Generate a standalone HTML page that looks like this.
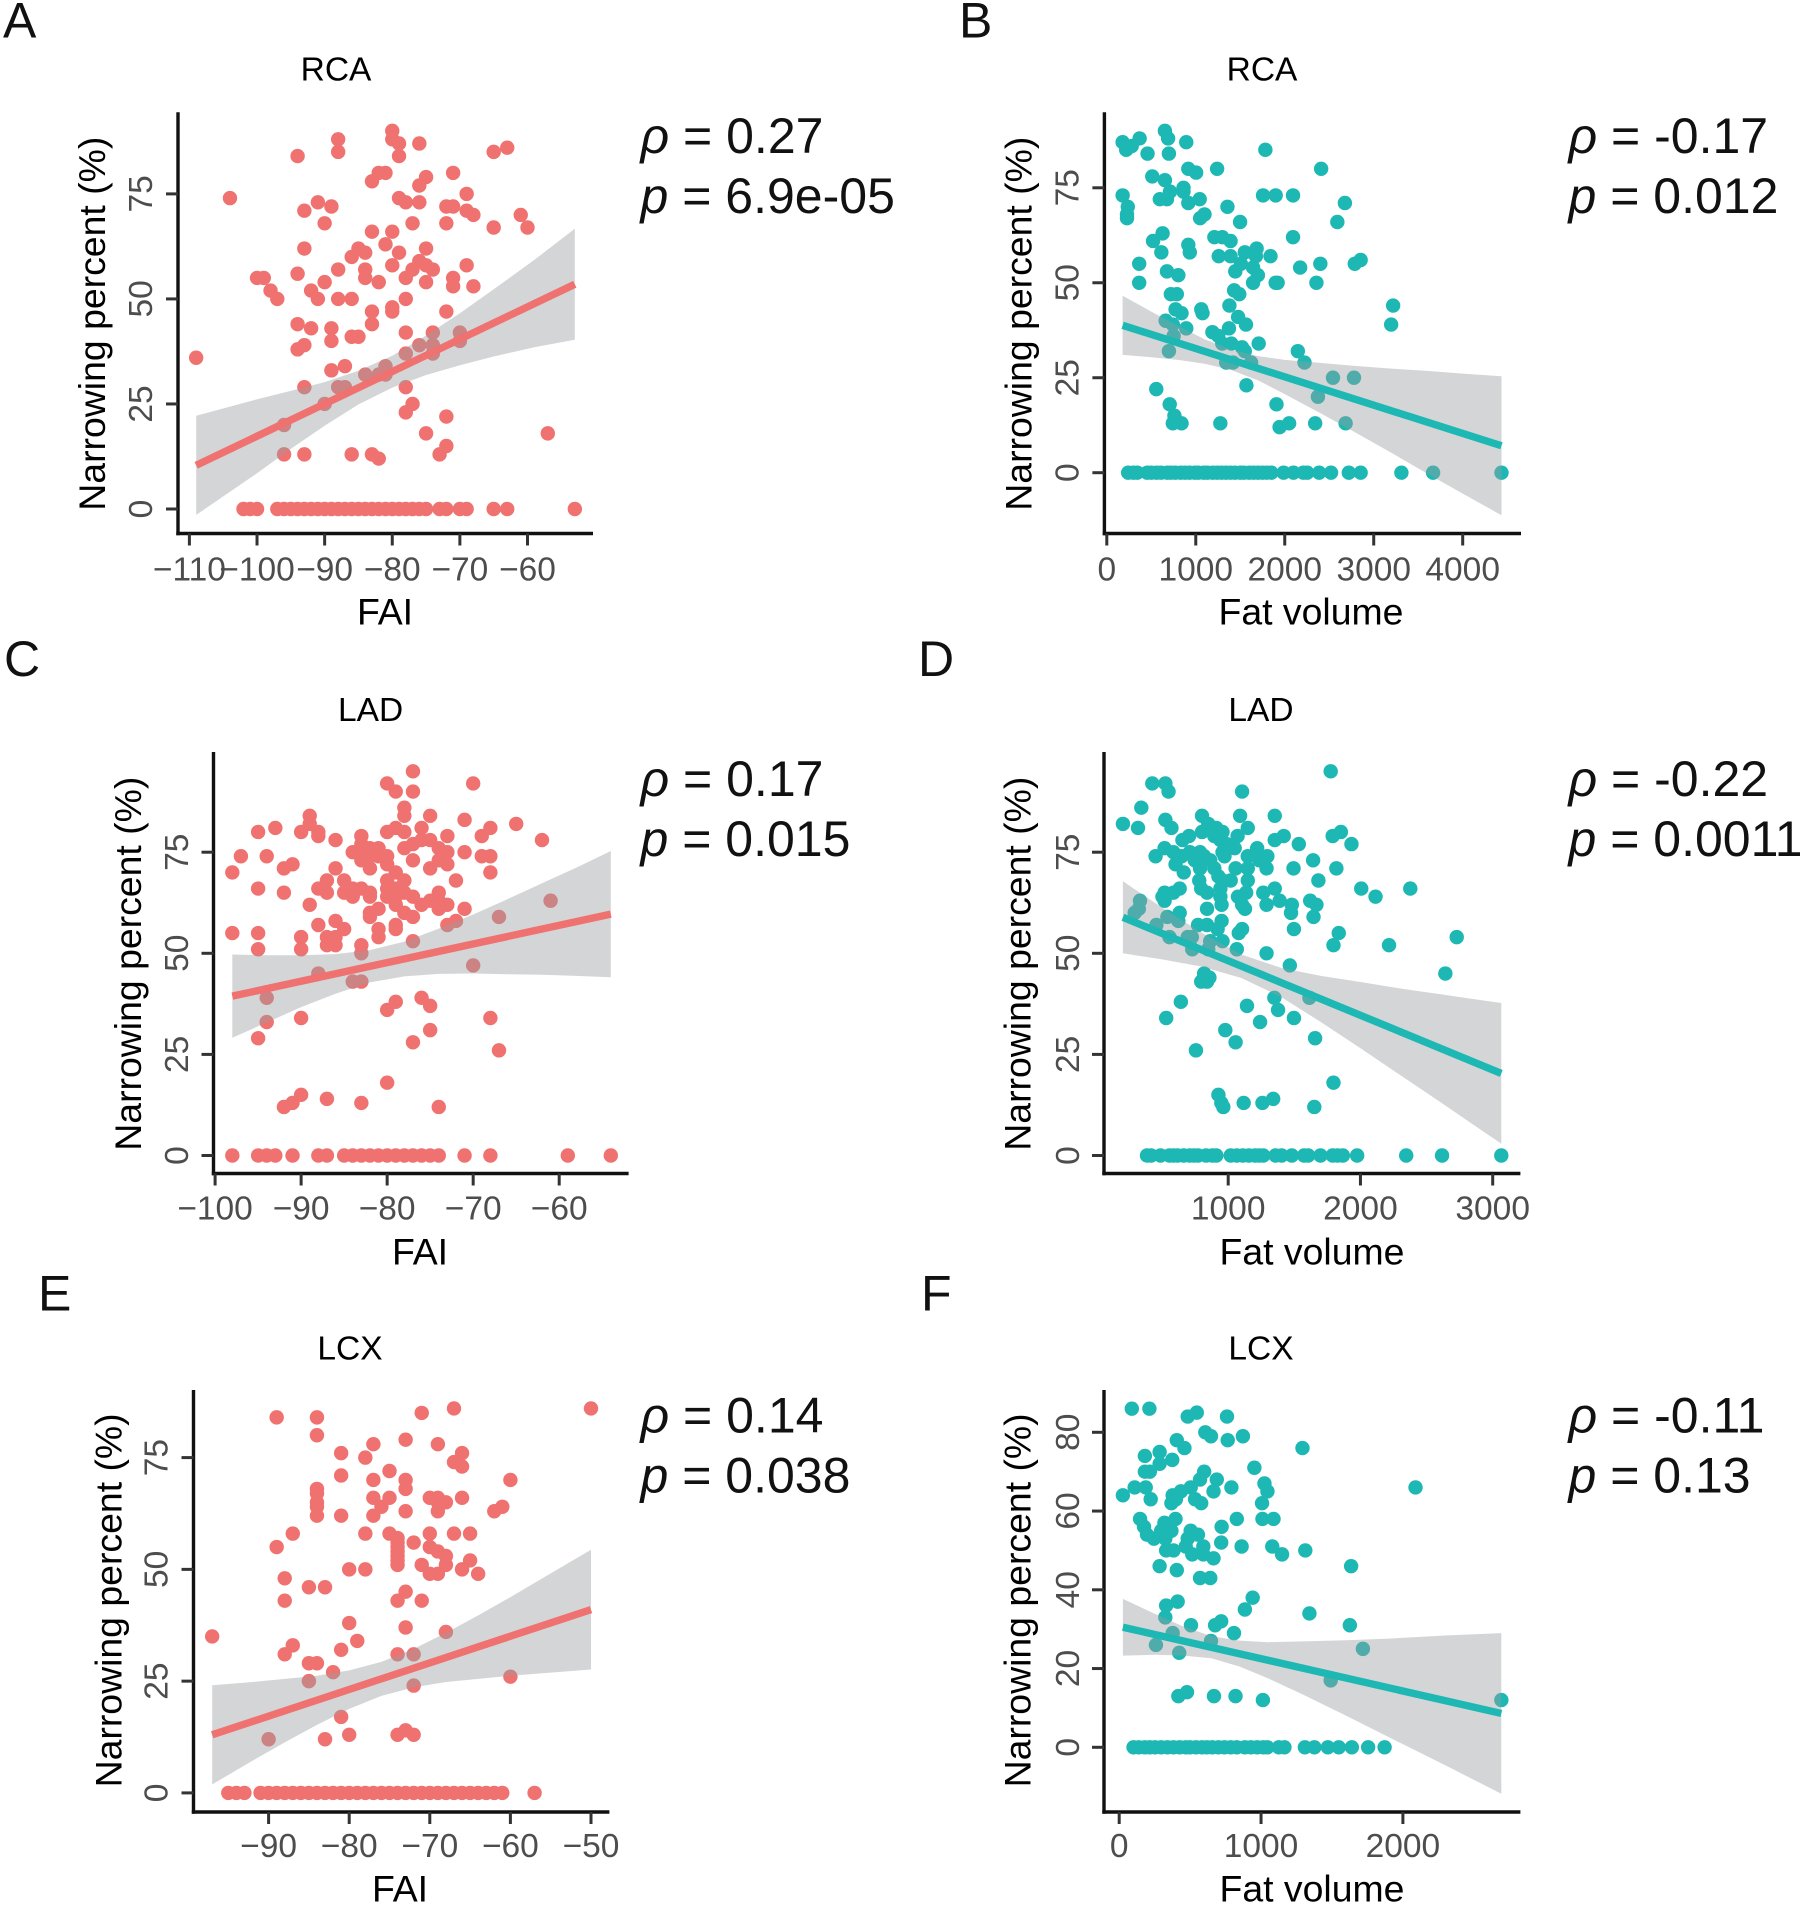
<!DOCTYPE html>
<html lang="en">
<head>
<meta charset="utf-8">
<title>Narrowing percent vs FAI and fat volume</title>
<style>
html,body{margin:0;padding:0;background:#fff;}
svg{display:block;font-family:"Liberation Sans",Arial,sans-serif;}
.letter{font-size:50px;fill:#111;}
.title{font-size:33.5px;fill:#000;text-anchor:middle;}
.axt{font-size:37.4px;fill:#000;text-anchor:middle;}
.stat{font-size:50px;fill:#111;}
.stat tspan{font-style:italic;}
</style>
</head>
<body>
<svg id="figure" xmlns="http://www.w3.org/2000/svg" width="1800" height="1908" viewBox="0 0 1800 1908">
<rect width="1800" height="1908" fill="#fff"/>

<g id="panel-a">
<text class="letter" x="3" y="37.5">A</text>
<text class="title" x="336" y="80.4">RCA</text>
<text class="axt" transform="translate(105 323.7) rotate(-90)">Narrowing percent (%)</text>
<text class="axt" x="385" y="624.5">FAI</text>
<text class="stat" x="640.5" y="153"><tspan>ρ</tspan> = 0.27</text>
<text class="stat" x="640.5" y="213"><tspan>p</tspan> = 6.9e-05</text>
</g>

<g id="panel-b">
<text class="letter" x="959" y="37.5">B</text>
<text class="title" x="1262" y="80.4">RCA</text>
<text class="axt" transform="translate(1031.7 323.7) rotate(-90)">Narrowing percent (%)</text>
<text class="axt" x="1311" y="624.5">Fat volume</text>
<text class="stat" x="1568.5" y="153"><tspan>ρ</tspan> = -0.17</text>
<text class="stat" x="1568.5" y="213"><tspan>p</tspan> = 0.012</text>
</g>

<g id="panel-c">
<text class="letter" x="4" y="676">C</text>
<text class="title" x="370.6" y="720.8">LAD</text>
<text class="axt" transform="translate(140.8 963.7) rotate(-90)">Narrowing percent (%)</text>
<text class="axt" x="420" y="1264.5">FAI</text>
<text class="stat" x="640.5" y="796"><tspan>ρ</tspan> = 0.17</text>
<text class="stat" x="640.5" y="856"><tspan>p</tspan> = 0.015</text>
</g>

<g id="panel-d">
<text class="letter" x="918" y="676">D</text>
<text class="title" x="1261" y="720.8">LAD</text>
<text class="axt" transform="translate(1030.6 963.7) rotate(-90)">Narrowing percent (%)</text>
<text class="axt" x="1312" y="1264.5">Fat volume</text>
<text class="stat" x="1568.5" y="796"><tspan>ρ</tspan> = -0.22</text>
<text class="stat" x="1568.5" y="856"><tspan>p</tspan> = 0.0011</text>
</g>

<g id="panel-e">
<text class="letter" x="38" y="1310.7">E</text>
<text class="title" x="350" y="1359.5">LCX</text>
<text class="axt" transform="translate(121.6 1600.4) rotate(-90)">Narrowing percent (%)</text>
<text class="axt" x="400" y="1901.5">FAI</text>
<text class="stat" x="640.5" y="1432.5"><tspan>ρ</tspan> = 0.14</text>
<text class="stat" x="640.5" y="1492.5"><tspan>p</tspan> = 0.038</text>
</g>

<g id="panel-f">
<text class="letter" x="921" y="1310.7">F</text>
<text class="title" x="1261" y="1359.5">LCX</text>
<text class="axt" transform="translate(1030.6 1600.4) rotate(-90)">Narrowing percent (%)</text>
<text class="axt" x="1312" y="1901.5">Fat volume</text>
<text class="stat" x="1568.5" y="1432.5"><tspan>ρ</tspan> = -0.11</text>
<text class="stat" x="1568.5" y="1492.5"><tspan>p</tspan> = 0.13</text>
</g>
</svg>

<script>
/* Panel A: RCA vs FAI */
const aXTicks=[-110,-100,-90,-80,-70,-60];
const aYTicks=[0,25,50,75];
const aXLabels=["−110","−100","−90","−80","−70","−60"];
const aYLabels=["0","25","50","75"];
const aZeroX=[-102,-101,-100,-97,-96,-95,-94,-93,-92,-91,-90,-89,-88,-87,-86,-85,-84,-83,-82,-81,-80,-79,-78,-77,-76,-75,-73,-72,-70,-69,-65,-63,-53];
const aPoints=[[-109,36],[-104,74],[-100,55],[-99,55],[-98,52],[-97,50],[-96,20],[-96,13],[-94,84],[-94,56],[-94,44],[-94,38],[-93,39],[-93,71],[-93,62],[-93,29],[-93,13],[-92,52],[-92,43],[-91,73],[-91,50],[-90,68],[-90,54],[-90,25],[-89,72],[-89,43],[-89,40],[-89,33],[-88,88],[-88,85],[-88,57],[-88,50],[-88,29],[-87,34],[-87,29],[-86,60],[-86,50],[-86,41],[-86,13],[-85,62],[-85,41],[-84,61],[-84,57],[-84,55],[-84,32],[-83,78],[-83,66],[-83,47],[-83,44],[-83,13],[-82,80],[-82,54],[-82,32],[-82,12],[-81,80],[-81,63],[-81,34],[-81,32],[-80,90],[-80,88],[-80,66],[-80,58],[-80,48],[-80,47],[-79,87],[-79,84],[-79,74],[-79,61],[-78,73],[-78,55],[-78,50],[-78,42],[-78,37],[-78,29],[-78,23],[-77,68],[-77,57],[-77,25],[-76,87],[-76,77],[-76,73],[-76,59],[-76,39],[-75,79],[-75,62],[-75,58],[-75,54],[-75,18],[-74,57],[-74,42],[-74,39],[-74,37],[-73,13],[-72,72],[-72,68],[-72,47],[-72,22],[-72,15],[-71,80],[-71,72],[-71,55],[-71,53],[-70,42],[-70,40],[-69,75],[-69,71],[-69,58],[-68,70],[-68,53],[-65,85],[-65,67],[-63,86],[-61,70],[-60,67],[-57,18]];
const aFitX=[-109,-53];
const aFitY=[10.4,53.5];
const aBandX=[-109,-100,-95,-90,-85,-80,-75,-70,-65,-59,-53];
const aBandHigh=[22.2,26.1,28.1,30.2,32.9,36.5,41.3,46.6,52.3,59.3,66.7];
const aBandLow=[-1.4,8.5,14.3,19.8,24.9,28.9,31.9,34.2,36.3,38.5,40.3];

/* Panel B: RCA vs fat volume */
const bXTicks=[0,1000,2000,3000,4000];
const bYTicks=[0,25,50,75];
const bXLabels=["0","1000","2000","3000","4000"];
const bYLabels=["0","25","50","75"];
const bZeroX=[240,298,342,453,500,560,610,680,720,770,830,880,930,990,1030,1090,1130,1190,1240,1290,1340,1390,1440,1500,1540,1600,1650,1700,1750,1800,1850,1987,2098,2209,2253,2387,2520,2720,2853,3311,3667,4436];
const bPoints=[[178,87],[218,85],[280,86],[369,88],[458,84],[653,90],[689,88],[698,84],[893,87],[511,78],[653,77],[711,74],[596,72],[676,72],[178,73],[236,70],[227,68],[227,67],[862,75],[862,74],[916,80],[1004,79],[1240,80],[916,71],[1044,72],[1356,70],[1098,68],[1049,67],[1498,66],[1782,85],[2409,80],[1756,73],[1898,73],[2093,73],[2676,71],[2591,66],[2093,62],[520,61],[627,63],[613,58],[916,60],[933,58],[1209,62],[1298,62],[1391,61],[1258,57],[1391,57],[1551,58],[1684,59],[1676,57],[1840,57],[364,55],[364,50],[676,53],[804,52],[1444,53],[1507,55],[1644,54],[1698,52],[1644,50],[1898,50],[1920,50],[2173,54],[2400,55],[2356,50],[2787,55],[2853,56],[720,47],[787,47],[1431,48],[1489,47],[1378,44],[773,43],[840,42],[1062,43],[1076,42],[1476,41],[1564,39],[3218,44],[3196,39],[662,40],[742,39],[893,38],[751,36],[698,32],[1187,37],[1253,36],[1373,38],[1298,34],[1400,34],[1520,33],[1551,32],[1707,34],[1342,29],[1418,29],[1622,29],[2147,32],[2222,29],[2542,25],[2778,25],[556,22],[1569,23],[2373,20],[707,18],[1907,18],[760,15],[742,13],[840,13],[1276,13],[1942,12],[2049,13],[2342,13],[2684,13]];
const bFitX=[178,4436];
const bFitY=[38.8,7.1];
const bBandX=[178,500,800,1100,1400,1700,2000,2400,2800,3200,3600,4000,4436];
const bBandHigh=[46.6,42.4,38.7,35.1,32.4,30.7,29.7,28.9,28.1,27.4,26.8,26.1,25.4];
const bBandLow=[31.0,30.4,29.7,28.7,27.0,24.3,20.7,15.7,10.5,5.2,-0.2,-5.5,-11.2];

/* Panel C: LAD vs FAI */
const cXTicks=[-100,-90,-80,-70,-60];
const cYTicks=[0,25,50,75];
const cXLabels=["−100","−90","−80","−70","−60"];
const cYLabels=["0","25","50","75"];
const cZeroX=[-98,-95,-94,-93,-91,-88,-87,-85,-84,-83,-82,-81,-80,-79,-78,-77,-76,-75,-74,-71,-68,-59,-54];
const cPoints=[[-98,70],[-98,55],[-97,74],[-95,80],[-95,66],[-95,55],[-95,51],[-95,29],[-94,74],[-94,39],[-94,33],[-93,81],[-92,71],[-92,65],[-92,12],[-91,72],[-91,13],[-90,80],[-90,54],[-90,51],[-90,34],[-90,15],[-89,84],[-89,82],[-89,62],[-88,80],[-88,79],[-88,66],[-88,57],[-88,45],[-87,68],[-87,65],[-87,54],[-87,52],[-87,14],[-86,78],[-86,71],[-86,58],[-86,54],[-86,52],[-85,68],[-85,65],[-85,56],[-84,75],[-84,66],[-84,64],[-84,43],[-83,79],[-83,77],[-83,75],[-83,73],[-83,66],[-83,52],[-83,50],[-83,43],[-83,13],[-82,76],[-82,74],[-82,71],[-82,65],[-82,64],[-82,60],[-82,59],[-81,76],[-81,74],[-81,61],[-81,56],[-81,54],[-80,92],[-80,80],[-80,74],[-80,72],[-80,68],[-80,66],[-80,64],[-80,36],[-80,18],[-79,90],[-79,81],[-79,70],[-79,66],[-79,64],[-79,62],[-79,57],[-79,56],[-79,38],[-78,86],[-78,84],[-78,80],[-78,76],[-78,68],[-78,65],[-78,60],[-77,95],[-77,90],[-77,77],[-77,73],[-77,64],[-77,59],[-77,53],[-77,28],[-76,81],[-76,78],[-76,62],[-76,39],[-75,84],[-75,78],[-75,71],[-75,63],[-75,37],[-75,31],[-74,76],[-74,73],[-74,65],[-74,63],[-74,61],[-74,12],[-73,79],[-73,75],[-73,72],[-73,62],[-73,57],[-72,68],[-72,58],[-71,83],[-71,75],[-71,61],[-70,92],[-70,47],[-69,79],[-69,74],[-68,81],[-68,74],[-68,70],[-68,34],[-67,59],[-67,26],[-65,82],[-62,78],[-61,63]];
const cFitX=[-98,-54];
const cFitY=[39.4,59.7];
const cBandX=[-98,-94,-90,-86,-82,-78,-74,-70,-66,-62,-58,-54];
const cBandHigh=[49.7,49.5,49.5,49.8,50.8,52.9,56.1,59.6,63.4,67.3,71.2,75.3];
const cBandLow=[29.1,32.9,36.7,40.0,42.8,44.3,44.9,45.0,44.8,44.7,44.4,44.1];

/* Panel D: LAD vs fat volume */
const dXTicks=[1000,2000,3000];
const dYTicks=[0,25,50,75];
const dXLabels=["1000","2000","3000"];
const dYLabels=["0","25","50","75"];
const dZeroX=[386,417,488,556,586,617,664,710,741,772,833,880,910,1019,1065,1111,1157,1204,1235,1265,1358,1404,1481,1574,1605,1698,1790,1827,1867,1975,2346,2617,3065];
const dPoints=[[204,82],[318,81],[343,86],[426,92],[525,92],[549,90],[525,83],[571,81],[654,78],[704,79],[519,76],[451,74],[586,75],[602,72],[664,70],[648,74],[710,75],[787,75],[747,73],[818,74],[787,71],[864,73],[895,71],[926,69],[802,84],[802,80],[849,82],[910,81],[957,80],[895,79],[941,78],[988,77],[1049,76],[957,75],[972,74],[1071,79],[1090,84],[1105,90],[1148,81],[1056,71],[1019,68],[957,68],[781,68],[796,66],[840,65],[633,66],[586,65],[519,65],[503,64],[519,63],[1148,74],[1219,76],[1235,73],[1296,74],[1290,71],[1148,71],[1148,68],[1136,65],[1074,64],[1105,62],[1127,61],[941,66],[941,64],[950,62],[1265,65],[1352,78],[1420,79],[1352,84],[1534,77],[1494,71],[1642,73],[1682,68],[1352,66],[1389,63],[1290,62],[1481,62],[1475,60],[1620,63],[1667,62],[1645,59],[1818,71],[1790,79],[1852,80],[1932,77],[1775,95],[2006,66],[2114,64],[2377,66],[840,61],[333,63],[324,61],[293,60],[540,59],[633,60],[623,58],[457,57],[772,57],[840,57],[950,58],[920,56],[1105,56],[1080,55],[1497,56],[1836,55],[1796,52],[2216,52],[2728,54],[556,54],[694,54],[725,54],[728,51],[957,53],[864,53],[849,51],[1065,51],[1290,50],[1466,47],[2642,45],[818,45],[858,44],[796,43],[840,43],[642,38],[531,34],[1142,37],[1349,39],[1377,36],[1614,39],[1497,34],[1241,33],[978,31],[1056,28],[756,26],[1657,29],[1796,18],[926,15],[948,13],[963,12],[1117,13],[1259,13],[1340,14],[1651,12]];
const dFitX=[204,3065];
const dFitY=[58.9,20.3];
const dBandX=[204,500,800,1100,1400,1700,2000,2300,2600,2850,3065];
const dBandHigh=[67.8,61.3,55.1,49.7,46.4,44.4,42.9,41.3,39.9,38.7,37.7];
const dBandLow=[50.0,48.5,46.7,43.9,39.2,33.0,26.5,19.9,13.3,7.7,2.9];

/* Panel E: LCX vs FAI */
const eXTicks=[-90,-80,-70,-60,-50];
const eYTicks=[0,25,50,75];
const eXLabels=["−90","−80","−70","−60","−50"];
const eYLabels=["0","25","50","75"];
const eZeroX=[-95,-94,-93,-91,-90,-89,-88,-87,-86,-85,-84,-83,-82,-81,-80,-79,-78,-77,-76,-75,-74,-73,-72,-71,-70,-69,-68,-67,-66,-65,-64,-63,-62,-61,-57];
const ePoints=[[-97,35],[-89,84],[-89,55],[-90,12],[-88,48],[-88,43],[-88,31],[-87,58],[-87,33],[-85,46],[-85,29],[-85,25],[-84,84],[-84,80],[-84,68],[-84,67],[-84,65],[-84,64],[-84,62],[-84,29],[-83,46],[-83,12],[-82,27],[-81,76],[-81,71],[-81,62],[-81,32],[-81,17],[-80,50],[-80,38],[-80,13],[-79,34],[-78,75],[-78,58],[-78,50],[-77,78],[-77,70],[-77,66],[-77,62],[-76,64],[-75,72],[-75,66],[-75,58],[-74,57],[-74,56],[-74,55],[-74,54],[-74,53],[-74,52],[-74,51],[-74,43],[-74,31],[-74,13],[-73,79],[-73,70],[-73,68],[-73,63],[-73,45],[-73,37],[-73,14],[-72,56],[-72,31],[-72,24],[-72,13],[-71,85],[-71,51],[-71,43],[-70,66],[-70,58],[-70,55],[-70,49],[-69,78],[-69,66],[-69,65],[-69,63],[-69,54],[-69,49],[-68,65],[-68,53],[-68,51],[-68,36],[-67,86],[-67,74],[-67,58],[-66,76],[-66,73],[-66,66],[-66,50],[-65,58],[-65,52],[-64,49],[-62,63],[-61,64],[-60,70],[-60,26],[-50,86]];
const eFitX=[-97,-50];
const eFitY=[13,41];
const eBandX=[-97,-92,-88,-84,-80,-76,-72,-68,-64,-60,-55,-50];
const eBandHigh=[24.1,24.8,25.5,26.2,27.4,29.3,32.2,35.8,39.7,43.8,49.1,54.4];
const eBandLow=[1.9,7.2,11.3,15.2,18.8,21.7,23.6,24.8,25.5,26.2,26.9,27.6];

/* Panel F: LCX vs fat volume */
const fXTicks=[0,1000,2000];
const fYTicks=[0,20,40,60,80];
const fXLabels=["0","1000","2000"];
const fYLabels=["0","20","40","60","80"];
const fZeroX=[101,138,181,216,253,296,340,383,426,469,498,541,584,619,656,699,742,786,829,886,929,973,1016,1045,1125,1165,1309,1376,1471,1548,1640,1755,1871];
const fPoints=[[89,86],[213,86],[483,84],[547,85],[760,84],[607,80],[647,79],[765,78],[872,79],[406,78],[460,76],[1292,76],[285,75],[181,74],[285,72],[374,73],[181,70],[216,70],[599,70],[953,71],[570,68],[688,68],[1024,67],[1045,65],[2089,66],[109,66],[187,66],[26,64],[222,63],[504,66],[435,65],[377,64],[400,63],[368,62],[791,66],[665,65],[535,63],[578,62],[1007,62],[147,58],[175,56],[196,54],[245,53],[1010,58],[1088,58],[829,58],[397,58],[319,57],[296,55],[368,55],[325,53],[722,56],[504,55],[555,54],[483,53],[719,52],[469,51],[593,51],[863,51],[1079,51],[331,50],[383,50],[515,49],[593,49],[1312,50],[1148,49],[665,48],[1635,46],[285,46],[406,45],[570,43],[642,43],[941,38],[412,37],[331,36],[886,35],[1341,34],[325,33],[719,32],[676,31],[506,31],[1626,31],[377,29],[809,29],[647,27],[259,26],[423,24],[1718,25],[1491,17],[417,13],[478,14],[668,13],[820,13],[1013,12],[2694,12]];
const fFitX=[26,2694];
const fFitY=[30.5,8.6];
const fBandX=[26,250,450,650,850,1050,1300,1600,1900,2300,2694];
const fBandHigh=[37.7,33.9,30.7,28.2,27.1,26.7,26.9,27.2,27.6,28.4,29.0];
const fBandLow=[23.3,23.5,23.3,22.6,20.5,17.5,13.3,8.0,2.6,-4.6,-11.8];

const NS='http://www.w3.org/2000/svg';
const RED='#EF7270';
const TEAL='#1DB8B4';

function make(tag,attrs,parent){
  const el=document.createElementNS(NS,tag);
  for(const k in attrs){el.setAttribute(k,attrs[k]);}
  parent.appendChild(el);
  return el;
}
/* Linear axis function calibrated from two pixel anchors */
function linear(d0,d1,p0,p1){
  return function(v){return p0+(v-d0)*(p1-p0)/(d1-d0);};
}

function drawPanel(id,tag,color,frame,sx,sy,xTicks,xLabels,yTicks,yLabels,zeroX,points,fitX,fitY,bandX,bandHigh,bandLow){
  const root=document.getElementById(id);

  /* scatter points */
  const dots=make('g',{},root);
  
  
  zeroX.forEach(function(x){
    const c=make('circle',{cx:sx(x),cy:sy(0),r:7.2,fill:color},dots);
    
    
  });
  points.forEach(function(p){
    const c=make('circle',{cx:sx(p[0]),cy:sy(p[1]),r:7.2,fill:color},dots);
    
    
  });

  /* confidence band */
  let d='';
  bandX.forEach(function(x,i){d+=(i?'L':'M')+sx(x).toFixed(1)+' '+sy(bandHigh[i]).toFixed(1);});
  for(let i=bandX.length-1;i>=0;i--){d+='L'+sx(bandX[i]).toFixed(1)+' '+sy(bandLow[i]).toFixed(1);}
  const band=make('path',{d:d+'Z',fill:'#999a9e','fill-opacity':0.42},root);
  
  

  /* regression line */
  const fit=make('line',{x1:sx(fitX[0]),y1:sy(fitY[0]),x2:sx(fitX[1]),y2:sy(fitY[1]),stroke:color,'stroke-width':7.4},root);
  
  

  /* axis lines */
  const yAxis=make('line',{x1:frame.left,y1:frame.top,x2:frame.left,y2:frame.bottom+1.7,stroke:'#111','stroke-width':3.4},root);
  
  
  const xAxis=make('line',{x1:frame.left-1.7,y1:frame.bottom,x2:frame.right,y2:frame.bottom,stroke:'#111','stroke-width':3.4},root);
  
  

  /* x ticks */
  xTicks.forEach(function(v,i){
    const t=make('line',{x1:sx(v),y1:frame.bottom,x2:sx(v),y2:frame.bottom+12,stroke:'#333','stroke-width':3},root);
    
    
    const l=make('text',{x:sx(v),y:frame.xLabelY,'font-size':33.5,fill:'#4d4d4d','text-anchor':'middle'},root);
    
    
    l.textContent=xLabels[i];
  });

  /* y ticks */
  yTicks.forEach(function(v,i){
    const t=make('line',{x1:frame.left-12,y1:sy(v),x2:frame.left,y2:sy(v),stroke:'#333','stroke-width':3},root);
    
    
    const l=make('text',{transform:'translate('+frame.yLabelX+' '+sy(v)+') rotate(-90)','font-size':33.5,fill:'#4d4d4d','text-anchor':'middle'},root);
    
    
    l.textContent=yLabels[i];
  });
}

drawPanel('panel-a','a',RED,{left:178,right:593,top:112.2,bottom:533.5,xLabelY:580.4,yLabelX:152},
  linear(-110,-60,189.4,527.5),linear(0,75,509,193.9),
  aXTicks,aXLabels,aYTicks,aYLabels,aZeroX,aPoints,aFitX,aFitY,aBandX,aBandHigh,aBandLow);
drawPanel('panel-b','b',TEAL,{left:1104.4,right:1521,top:112.2,bottom:533.5,xLabelY:580.4,yLabelX:1078.7},
  linear(0,4000,1106.8,1462.7),linear(0,75,472.7,187.8),
  bXTicks,bXLabels,bYTicks,bYLabels,bZeroX,bPoints,bFitX,bFitY,bBandX,bBandHigh,bBandLow);
drawPanel('panel-c','c',RED,{left:213.5,right:628.6,top:752,bottom:1173.5,xLabelY:1219.6,yLabelX:188},
  linear(-100,-60,215.1,559.2),linear(0,75,1155.5,852.2),
  cXTicks,cXLabels,cYTicks,cYLabels,cZeroX,cPoints,cFitX,cFitY,cBandX,cBandHigh,cBandLow);
drawPanel('panel-d','d',TEAL,{left:1104,right:1520.4,top:752,bottom:1173.5,xLabelY:1219.6,yLabelX:1078.8},
  linear(1000,3000,1228.2,1492.7),linear(0,75,1155.5,852.2),
  dXTicks,dXLabels,dYTicks,dYLabels,dZeroX,dPoints,dFitX,dFitY,dBandX,dBandHigh,dBandLow);
drawPanel('panel-e','e',RED,{left:193.5,right:609.4,top:1390,bottom:1812,xLabelY:1857,yLabelX:167.3},
  linear(-90,-50,268.6,591),linear(0,75,1792.9,1457.6),
  eXTicks,eXLabels,eYTicks,eYLabels,eZeroX,ePoints,eFitX,eFitY,eBandX,eBandHigh,eBandLow);
drawPanel('panel-f','f',TEAL,{left:1104,right:1520.4,top:1390,bottom:1812,xLabelY:1857,yLabelX:1078.8},
  linear(0,2000,1119.2,1402.9),linear(0,80,1747.3,1432.3),
  fXTicks,fXLabels,fYTicks,fYLabels,fZeroX,fPoints,fFitX,fFitY,fBandX,fBandHigh,fBandLow);
</script>
</body>
</html>
